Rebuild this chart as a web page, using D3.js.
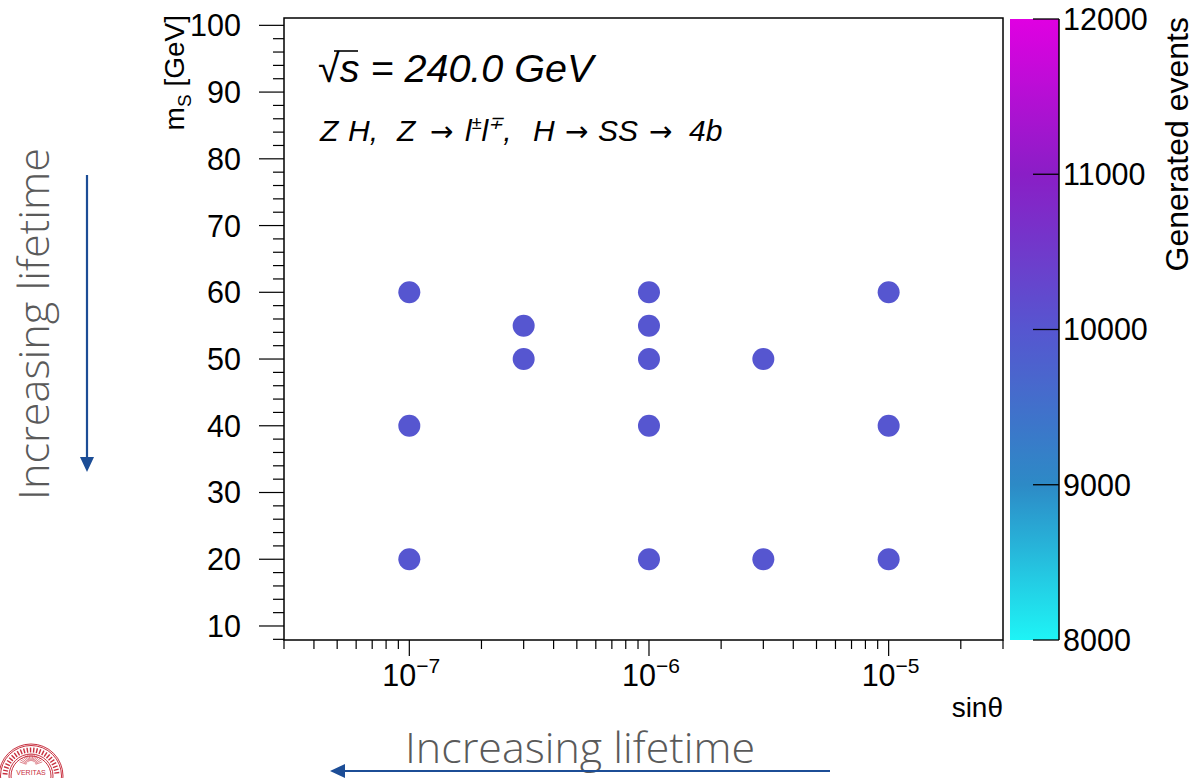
<!DOCTYPE html>
<html><head><meta charset="utf-8">
<script src="https://cdn.jsdelivr.net/npm/d3@7"></script>
<style>
html,body{margin:0;padding:0;background:#fff;}
svg{display:block;}
</style></head>
<body>
<svg id="chart" width="1194" height="778"></svg>
<script>
// ---- data ----
const sinTheta = [1e-7, 1e-7, 1e-7, 3e-7, 3e-7, 1e-6, 1e-6, 1e-6, 1e-6, 1e-6, 3e-6, 3e-6, 1e-5, 1e-5, 1e-5];
const massS    = [60, 40, 20, 55, 50, 60, 55, 50, 40, 20, 50, 20, 60, 40, 20];
const events   = [10000, 10000, 10000, 10000, 10000, 10000, 10000, 10000, 10000, 10000, 10000, 10000, 10000, 10000, 10000];
const yTicks = [10, 20, 30, 40, 50, 60, 70, 80, 90, 100];
const xMajorExp = [-7, -6, -5];
const zTicks = [8000, 9000, 10000, 11000, 12000];
const paletteStops = [8000, 9000, 10000, 11000, 12000];
const paletteColors = ["#1ef4f6", "#2d8ac6", "#5656d0", "#8a1ec6", "#e000e2"];

const svg = d3.select("#chart");
const plot = {l: 284, r: 1003, t: 18, b: 640};

const x = d3.scaleLog().domain([3e-8, 3e-5]).range([plot.l, plot.r]);
const y = d3.scaleLinear().domain([7.9, 101.1]).range([plot.b, plot.t]);
const color = d3.scaleLinear().domain(paletteStops).range(paletteColors);
const z = d3.scaleLinear().domain([8000, 12000]).range([640, 19]);

const FONT = "'Liberation Sans', Arial, Helvetica, sans-serif";
const LBL = 30.5;

// frame
svg.append("rect").attr("x", plot.l).attr("y", plot.t)
  .attr("width", plot.r - plot.l).attr("height", plot.b - plot.t)
  .attr("fill", "none").attr("stroke", "#000").attr("stroke-width", 1.5);

// y axis ticks
const yMinor = d3.range(8, 101, 2);
svg.append("g").selectAll("line").data(yMinor).join("line")
  .attr("x1", d => plot.l - (d % 10 === 0 ? 25 : 11)).attr("x2", plot.l)
  .attr("y1", d => y(d)).attr("y2", d => y(d))
  .attr("stroke", "#000").attr("stroke-width", 1.2);
svg.append("g").selectAll("text").data(yTicks).join("text")
  .attr("x", 241).attr("y", d => y(d)).attr("dy", "0.36em")
  .attr("text-anchor", "end").attr("font-family", FONT).attr("font-size", LBL)
  .text(d => d);

// x axis ticks
const xTicksAll = [];
for (let e = -8; e <= -5; e++) for (let m = 1; m <= 9; m++) {
  const v = m * Math.pow(10, e);
  if (v >= 3e-8 * 0.999 && v <= 3e-5 * 1.001) xTicksAll.push({v, major: m === 1});
}
svg.append("g").selectAll("line").data(xTicksAll).join("line")
  .attr("x1", d => x(d.v)).attr("x2", d => x(d.v))
  .attr("y1", plot.b).attr("y2", d => plot.b + (d.major ? 16 : 9))
  .attr("stroke", "#000").attr("stroke-width", 1.2);
const xl = svg.append("g").selectAll("text").data(xMajorExp).join("text")
  .attr("x", d => x(Math.pow(10, d)) - 27).attr("y", 686)
  .attr("font-family", FONT).attr("font-size", LBL);
xl.append("tspan").text("10");
xl.append("tspan").attr("font-size", 21).attr("dy", -13).text(d => "\u2212" + (-d));

// axis titles
svg.append("text").attr("x", 1003).attr("y", 717).attr("text-anchor", "end")
  .attr("font-family", FONT).attr("font-size", 28).text("sin\u03b8");
const yt = svg.append("text").attr("transform", "translate(184,15) rotate(-90)")
  .attr("text-anchor", "end").attr("font-family", FONT).attr("font-size", 28);
yt.append("tspan").text("m");
yt.append("tspan").attr("font-size", 19).attr("dy", 7).text("S");
yt.append("tspan").attr("dy", -7).text(" [GeV]");

// points
const pts = sinTheta.map((s, i) => ({s, m: massS[i], e: events[i]}));
svg.append("g").selectAll("circle").data(pts).join("circle")
  .attr("cx", d => x(d.s)).attr("cy", d => y(d.m)).attr("r", 11)
  .attr("fill", d => color(d.e));

// labels inside plot
const t1 = svg.append("text").attr("x", 318).attr("y", 82)
  .attr("font-family", FONT).attr("font-size", 39.5).attr("font-style", "italic");
t1.append("tspan").attr("font-style", "normal").text("\u221a");
t1.append("tspan").text("s = 240.0 GeV");
svg.append("line").attr("x1", 334).attr("x2", 358).attr("y1", 51).attr("y2", 51)
  .attr("stroke", "#000").attr("stroke-width", 1.6);

const ARW = "'DejaVu Sans', sans-serif";
const t2 = svg.append("text").attr("y", 141)
  .attr("font-family", FONT).attr("font-size", 30).attr("font-style", "italic");
t2.append("tspan").attr("x", 320).text("Z");
t2.append("tspan").attr("x", 348).text("H,");
t2.append("tspan").attr("x", 397).text("Z");
t2.append("tspan").attr("x", 430).attr("font-family", ARW).attr("font-style", "normal").attr("font-size", 28).text("\u2192");
t2.append("tspan").attr("x", 465).text("l");
t2.append("tspan").attr("font-size", 18).attr("dy", -12).text("\u00b1");
t2.append("tspan").attr("dy", 12).text("l");
t2.append("tspan").attr("font-size", 18).attr("dy", -12).text("\u2213");
t2.append("tspan").attr("dy", 12).text(",");
t2.append("tspan").attr("x", 533).text("H");
t2.append("tspan").attr("x", 565).attr("font-family", ARW).attr("font-style", "normal").attr("font-size", 28).text("\u2192");
t2.append("tspan").attr("x", 598).text("SS");
t2.append("tspan").attr("x", 649).attr("font-family", ARW).attr("font-style", "normal").attr("font-size", 28).text("\u2192");
t2.append("tspan").attr("x", 689).text("4b");

// colorbar
const defs = svg.append("defs");
const grad = defs.append("linearGradient").attr("id", "cbar")
  .attr("x1", 0).attr("y1", 1).attr("x2", 0).attr("y2", 0);
d3.range(0, 1.0001, 0.05).forEach(f => {
  grad.append("stop").attr("offset", f).attr("stop-color", color(8000 + f * 4000));
});
svg.append("rect").attr("x", 1010).attr("y", z(12000)).attr("width", 49)
  .attr("height", z(8000) - z(12000)).attr("fill", "url(#cbar)");
svg.append("line").attr("x1", 1059).attr("x2", 1059).attr("y1", z(12000)).attr("y2", z(8000))
  .attr("stroke", "#000").attr("stroke-width", 1.5);
svg.append("g").selectAll("line").data(zTicks).join("line")
  .attr("x1", 1033).attr("x2", 1059).attr("y1", d => z(d)).attr("y2", d => z(d))
  .attr("stroke", "#000").attr("stroke-width", 1.3);
svg.append("g").selectAll("text").data(zTicks).join("text")
  .attr("x", 1063).attr("y", d => z(d)).attr("dy", "0.36em")
  .attr("font-family", FONT).attr("font-size", LBL).text(d => d);
svg.append("text").attr("transform", "translate(1188,17) rotate(-90)")
  .attr("text-anchor", "end").attr("font-family", FONT).attr("font-size", 32)
  .text("Generated events");

// annotations: Increasing lifetime
const ANN = "'Open Sans', 'Noto Sans', sans-serif";
const blue = "#1c4d96";
svg.append("text").attr("transform", "translate(49,324) rotate(-90)")
  .attr("text-anchor", "middle").attr("font-family", ANN).attr("font-weight", 300)
  .attr("font-size", 42).attr("textLength", 352).attr("lengthAdjust", "spacingAndGlyphs")
  .attr("fill", "#5a5a5a").text("Increasing lifetime");
svg.append("line").attr("x1", 87).attr("x2", 87).attr("y1", 175).attr("y2", 458)
  .attr("stroke", blue).attr("stroke-width", 2.2);
svg.append("path").attr("d", "M80,457 L94,457 L87,472 Z").attr("fill", blue);

svg.append("text").attr("x", 580).attr("y", 763)
  .attr("text-anchor", "middle").attr("font-family", ANN).attr("font-weight", 300)
  .attr("font-size", 42).attr("textLength", 350).attr("lengthAdjust", "spacingAndGlyphs")
  .attr("fill", "#5a5a5a").text("Increasing lifetime");
svg.append("line").attr("x1", 830).attr("x2", 344).attr("y1", 771).attr("y2", 771)
  .attr("stroke", blue).attr("stroke-width", 2.2);
svg.append("path").attr("d", "M345,764 L345,778 L330,771 Z").attr("fill", blue);

// seal logo (bottom-left)
const red = "#c8303f";
const seal = svg.append("g").attr("transform", "translate(31,776)");
[32, 30.5, 22, 20].forEach(r => seal.append("circle").attr("r", r)
  .attr("fill", "none").attr("stroke", red).attr("stroke-width", 1));
seal.append("text").attr("y", -1).attr("text-anchor", "middle")
  .attr("font-family", FONT).attr("font-size", 7).attr("fill", red).text("VERITAS");
// ring of small marks standing in for the seal's lettering
d3.range(-175, -4, 7).forEach(a => {
  const rad = a * Math.PI / 180;
  seal.append("line").attr("x1", 23.5 * Math.cos(rad)).attr("y1", 23.5 * Math.sin(rad))
    .attr("x2", 28.5 * Math.cos(rad)).attr("y2", 28.5 * Math.sin(rad))
    .attr("stroke", red).attr("stroke-width", 1.4);
});
d3.range(-160, -19, 10).forEach(a => {
  const rad = a * Math.PI / 180;
  seal.append("line").attr("x1", 5 * Math.cos(rad)).attr("y1", -10 + 5 * Math.sin(rad))
    .attr("x2", 12 * Math.cos(rad)).attr("y2", -10 + 12 * Math.sin(rad))
    .attr("stroke", red).attr("stroke-width", 0.6);
});
</script>
</body></html>
